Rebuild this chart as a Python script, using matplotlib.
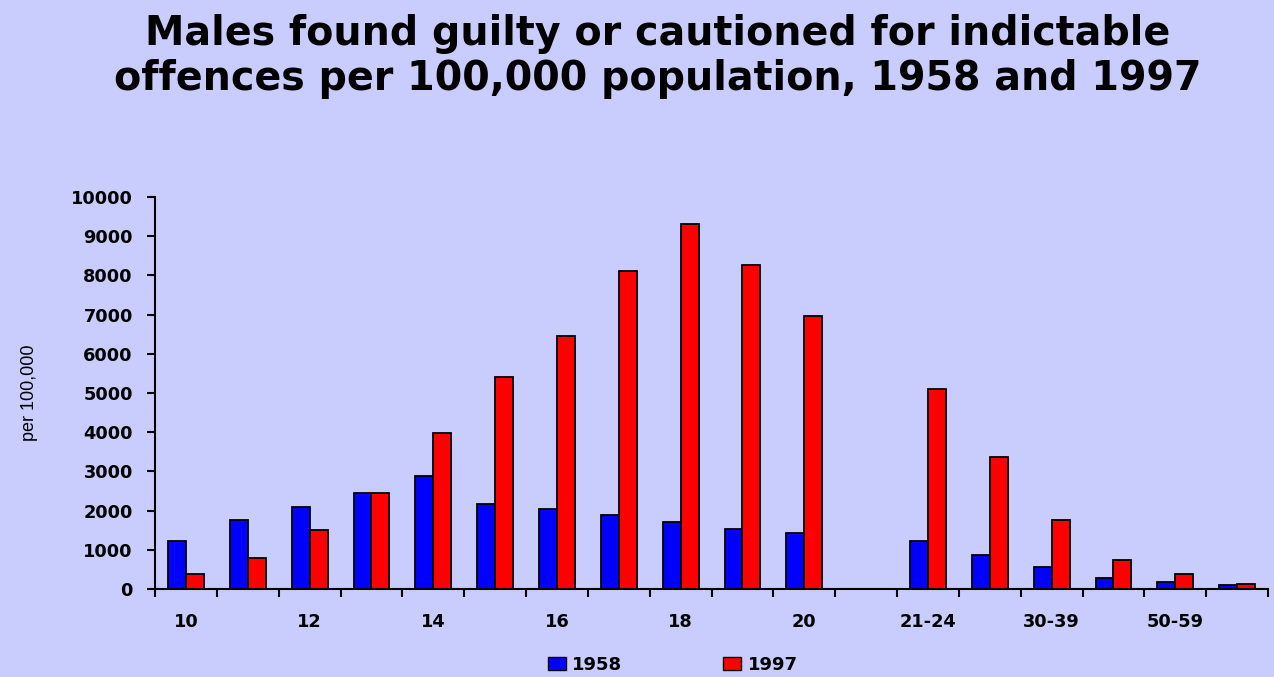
import matplotlib.pyplot as plt
import numpy as np
from matplotlib.patches import Patch

# Age groups (blank slot between 20 and 21-24 as in the original)
categories = ['10', '11', '12', '13', '14', '15', '16', '17', '18', '19', '20',
              '', '21-24', '25-29', '30-39', '40-49', '50-59', '60+']
shown_labels = ['10', '', '12', '', '14', '', '16', '', '18', '', '20',
                '', '21-24', '', '30-39', '', '50-59', '']

y1958 = [1220, 1750, 2100, 2450, 2870, 2180, 2050, 1900, 1700, 1540, 1420,
         0, 1220, 870, 560, 280, 180, 100]
y1997 = [370, 800, 1500, 2450, 3970, 5400, 6450, 8100, 9320, 8270, 6970,
         0, 5100, 3370, 1750, 740, 380, 130]

bg = '#c8cdfe'
plt.rcParams['font.family'] = ['DejaVu Sans']

fig = plt.figure(figsize=(12.74, 6.77), dpi=100, facecolor=bg)
ax = fig.add_axes([0.1217, 0.130, 0.8736, 0.579], facecolor=bg)

x = np.arange(len(categories))
w = 0.29
mask = np.array([c != '' for c in categories])
ax.bar(x[mask] - w / 2, np.array(y1958)[mask], w, color='#0000ff', edgecolor='black', linewidth=1.3)
ax.bar(x[mask] + w / 2, np.array(y1997)[mask], w, color='#ff0000', edgecolor='black', linewidth=1.3)

ax.set_xlim(-0.5, len(categories) - 0.5)
ax.set_ylim(0, 10000)
ax.set_yticks(np.arange(0, 10001, 1000))

ax.set_xticks(x)
ax.set_xticklabels(shown_labels, fontweight='bold', fontsize=12.8)
ax.set_xticks(np.arange(-0.5, len(categories), 1), minor=True)
ax.tick_params(axis='x', which='major', length=0, pad=17)
ax.tick_params(axis='x', which='minor', length=6, width=1.5, direction='out')
ax.tick_params(axis='y', length=6, width=1.5, direction='out', labelsize=12.8, pad=10)
for lab in ax.get_yticklabels():
    lab.set_fontweight('bold')

for s in ['top', 'right']:
    ax.spines[s].set_visible(False)
for s in ['left', 'bottom']:
    ax.spines[s].set_linewidth(1.5)

ax.set_ylabel('per 100,000', fontsize=13, labelpad=24,
              family=['Liberation Sans Narrow', 'Liberation Sans'])

fig.text(0.516, 0.917, 'Males found guilty or cautioned for indictable\noffences per 100,000 population, 1958 and 1997',
         ha='center', va='center', fontsize=28.5, fontweight='bold', linespacing=1.15)

handles = [Patch(facecolor='#0000ff', edgecolor='black', label='1958'),
           Patch(facecolor='#ff0000', edgecolor='black', label='1997')]
fig.legend(handles=handles, loc='center', bbox_to_anchor=(0.528, 0.018), ncol=2, frameon=False,
           prop={'size': 13, 'weight': 'bold'}, handlelength=1.0, handleheight=0.8,
           handletextpad=0.35, columnspacing=5.6)

fig.savefig('out.png', dpi=100, facecolor=bg)
